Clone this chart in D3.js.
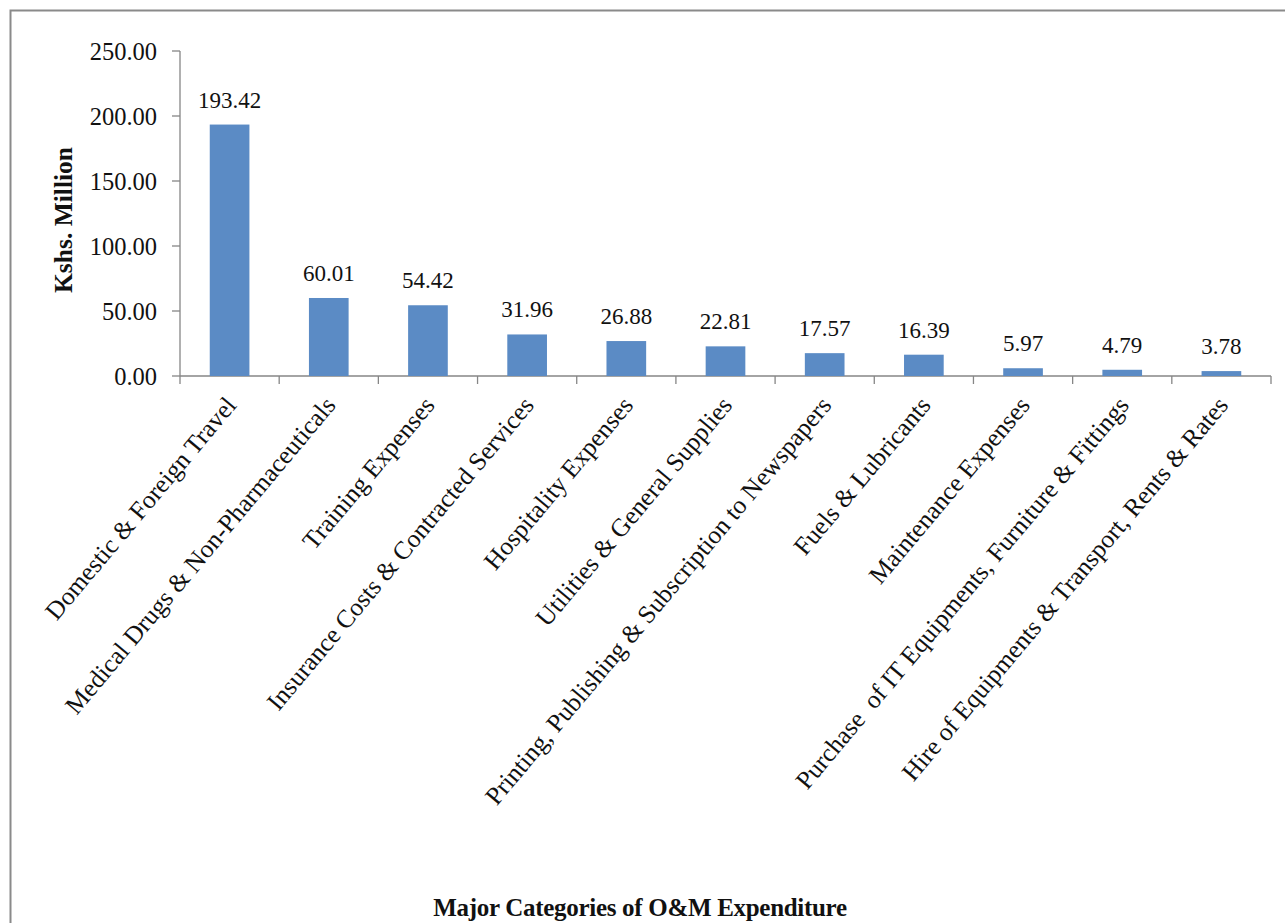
<!DOCTYPE html>
<html>
<head>
<meta charset="utf-8">
<script src="https://cdn.jsdelivr.net/npm/d3@7"></script>
<style>
  html, body { margin: 0; padding: 0; background: #fff; }
  svg { display: block; }
  text { font-family: "Liberation Serif", "Times New Roman", serif; fill: #111; }
</style>
</head>
<body>
<svg id="chart" width="1285" height="923"></svg>
<script>
const categories = [
  "Domestic & Foreign Travel",
  "Medical Drugs & Non-Pharmaceuticals",
  "Training Expenses",
  "Insurance Costs & Contracted Services",
  "Hospitality Expenses",
  "Utilities & General Supplies",
  "Printing, Publishing & Subscription to Newspapers",
  "Fuels & Lubricants",
  "Maintenance Expenses",
  "Purchase  of IT Equipments, Furniture & Fittings",
  "Hire of Equipments & Transport, Rents & Rates"
];
const values = [193.42, 60.01, 54.42, 31.96, 26.88, 22.81, 17.57, 16.39, 5.97, 4.79, 3.78];
const yTicks = [0, 50, 100, 150, 200, 250];
const yTitle = "Kshs. Million";
const xTitle = "Major Categories of O&M Expenditure";

(function () {
const svg = d3.select("#chart");
const axisColor = "#868686";
const barColor = "#5b8bc5";

// outer frame
svg.append("rect")
  .attr("x", 10.5).attr("y", 10.5)
  .attr("width", 1300).attr("height", 950)
  .attr("fill", "none").attr("stroke", "#8a8a8a").attr("stroke-width", 2);

const pLeft = 180, pRight = 1271, pTop = 51, pBottom = 376;

const x = d3.scaleBand().domain(categories).range([pLeft, pRight])
  .paddingInner(0.6).paddingOuter(0.3);
const y = d3.scaleLinear().domain([0, 250]).range([pBottom, pTop]);
const step = x.step(), bw = x.bandwidth(), off = (step - bw) / 2;

// y axis
const gy = svg.append("g");
gy.append("line").attr("x1", pLeft).attr("x2", pLeft).attr("y1", y(250)).attr("y2", y(0))
  .attr("stroke", axisColor).attr("stroke-width", 1.3);
gy.selectAll("line.tick").data(yTicks).enter().append("line")
  .attr("x1", pLeft - 8).attr("x2", pLeft)
  .attr("y1", d => y(d)).attr("y2", d => y(d))
  .attr("stroke", axisColor).attr("stroke-width", 1.3);
gy.selectAll("text").data(yTicks).enter().append("text")
  .attr("x", pLeft - 23).attr("y", d => y(d) + 8.5)
  .attr("text-anchor", "end").attr("font-size", 24.5)
  .text(d => d3.format(".2f")(d));

// x axis
const boundaries = categories.map(c => x(c) - off).concat([x(categories[categories.length - 1]) + bw + off]);
svg.append("line").attr("x1", pLeft).attr("x2", pRight).attr("y1", pBottom).attr("y2", pBottom)
  .attr("stroke", axisColor).attr("stroke-width", 1.3);
svg.selectAll("line.xt").data(boundaries).enter().append("line")
  .attr("x1", d => d).attr("x2", d => d).attr("y1", pBottom).attr("y2", pBottom + 8)
  .attr("stroke", axisColor).attr("stroke-width", 1.3);

// bars
svg.selectAll("rect.bar").data(values).enter().append("rect")
  .attr("class", "bar")
  .attr("x", (d, i) => x(categories[i]))
  .attr("width", bw)
  .attr("y", d => y(d))
  .attr("height", d => y(0) - y(d))
  .attr("fill", barColor);

// data labels
svg.selectAll("text.val").data(values).enter().append("text")
  .attr("x", (d, i) => x(categories[i]) + bw / 2)
  .attr("y", d => y(d) - 17)
  .attr("text-anchor", "middle").attr("font-size", 23)
  .text(d => d3.format(".2f")(d));

// category labels
svg.selectAll("text.cat").data(categories).enter().append("text")
  .attr("text-anchor", "end").attr("font-size", 25.5)
  .attr("transform", d => `translate(${x(d) + bw / 2 + 8},406) rotate(-50)`)
  .style("white-space", "pre")
  .text(d => d);

// axis titles
svg.append("text")
  .attr("transform", `translate(72,220) rotate(-90)`)
  .attr("text-anchor", "middle").attr("font-size", 25.5).attr("font-weight", "bold")
  .text(yTitle);
svg.append("text")
  .attr("x", 640).attr("y", 916)
  .attr("text-anchor", "middle").attr("font-size", 25).attr("font-weight", "bold")
  .attr("letter-spacing", -0.3)
  .text(xTitle);
})();
</script>
</body>
</html>
